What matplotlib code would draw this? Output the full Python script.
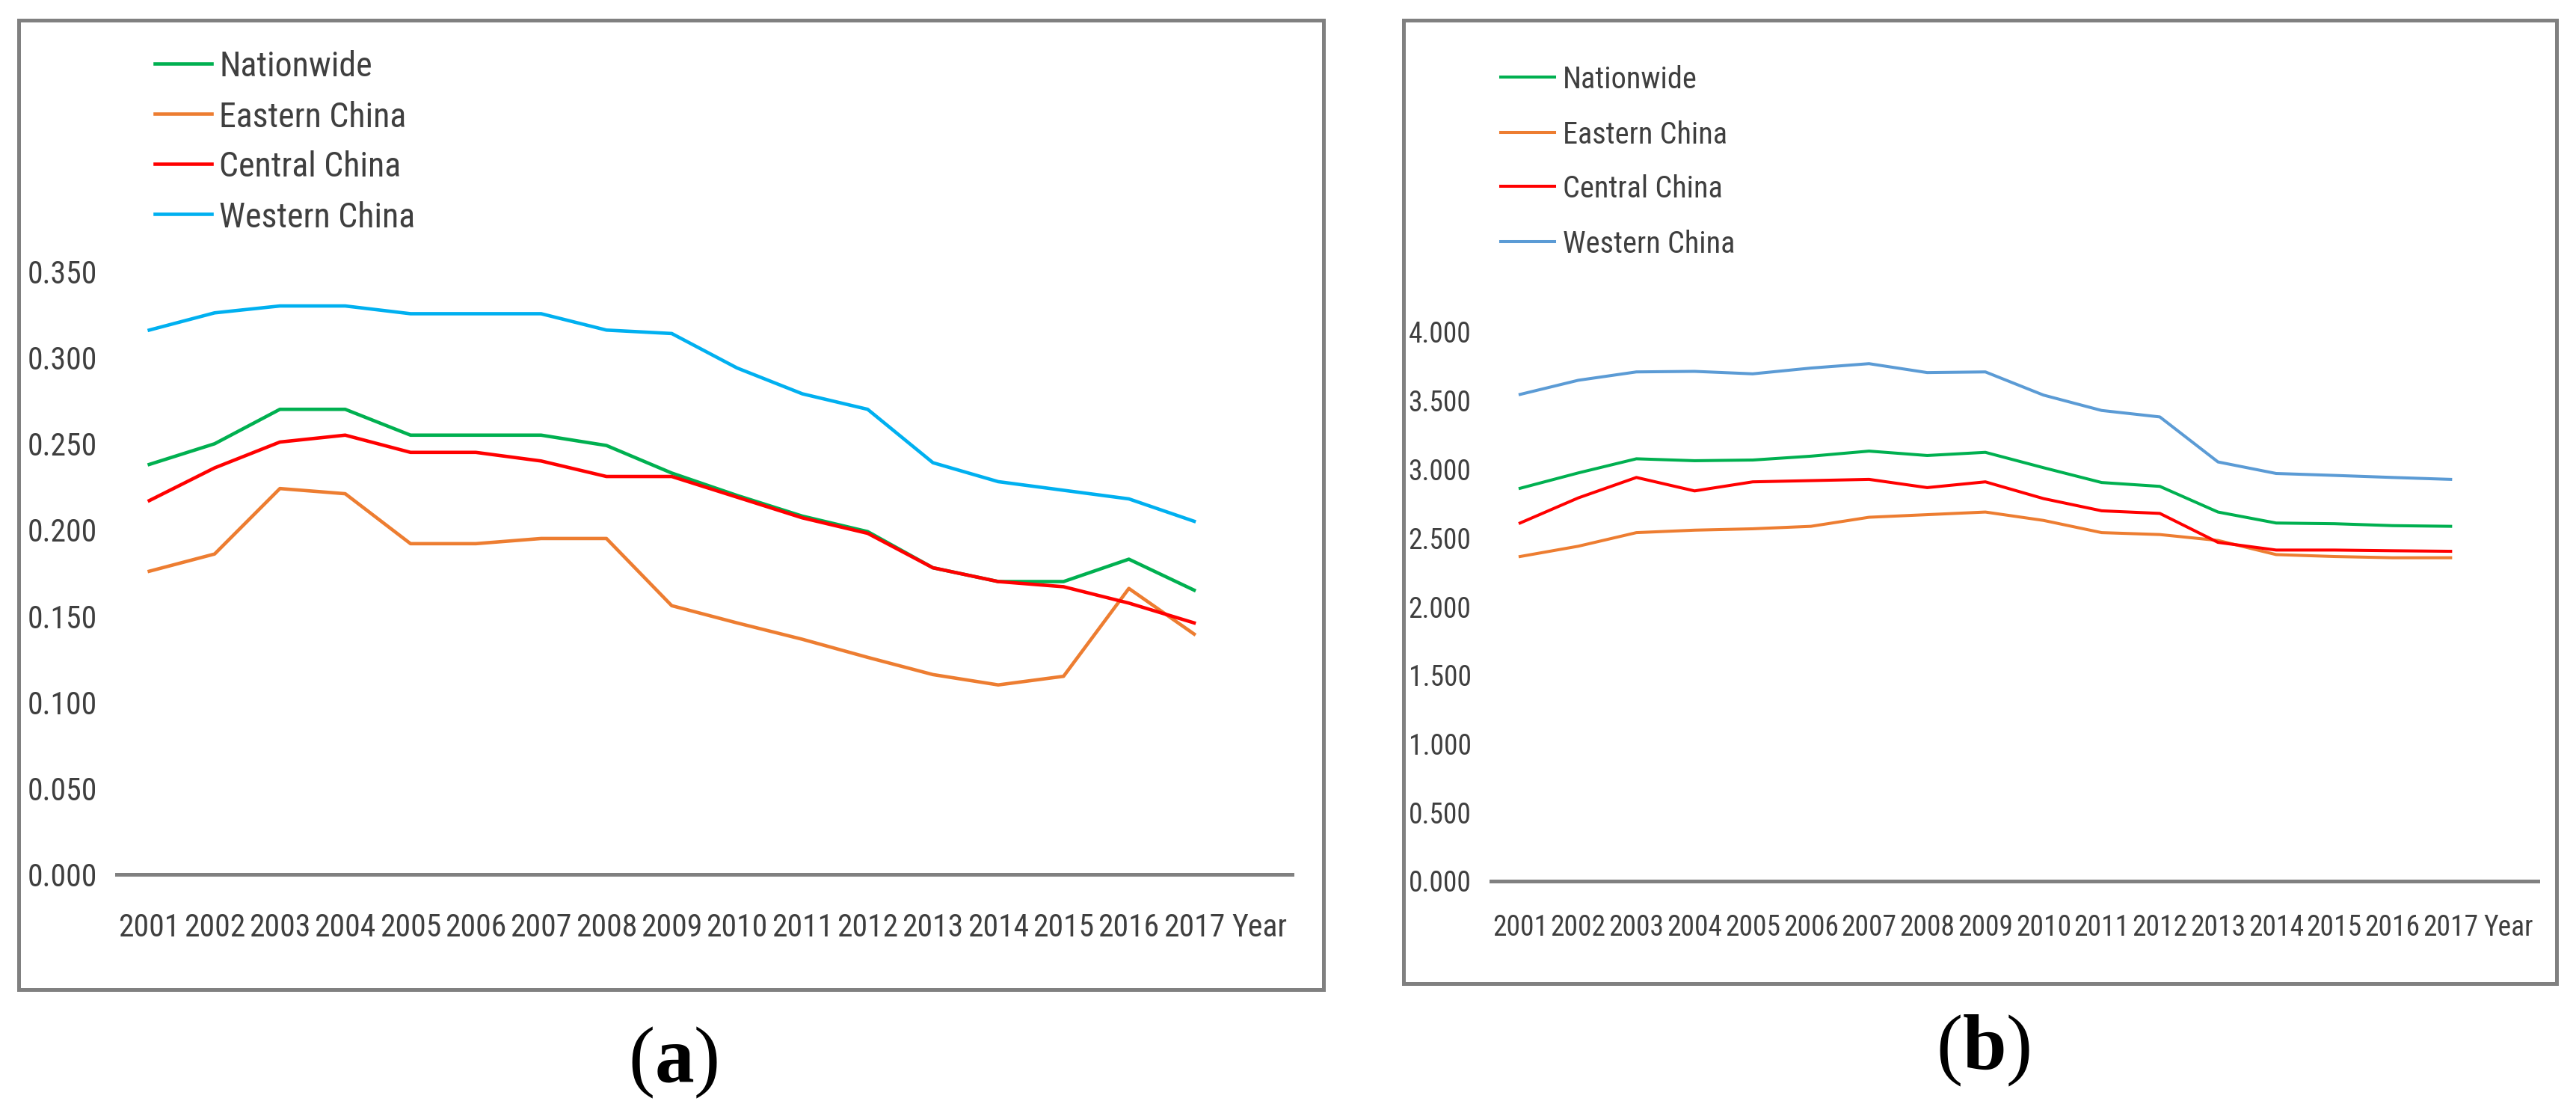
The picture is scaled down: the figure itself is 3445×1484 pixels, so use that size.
import matplotlib
matplotlib.use("Agg")
import matplotlib.pyplot as plt
from matplotlib import font_manager
from matplotlib.lines import Line2D
from matplotlib.patches import Rectangle

# data
years = [2001, 2002, 2003, 2004, 2005, 2006, 2007, 2008, 2009,
         2010, 2011, 2012, 2013, 2014, 2015, 2016, 2017]
xlabels = [str(y) for y in years] + ["Year"]
series_names = ["Nationwide", "Eastern China", "Central China", "Western China"]

# panel (a)
a_nation = [0.238, 0.250, 0.270, 0.270, 0.255, 0.255, 0.255, 0.249, 0.233,
            0.220, 0.208, 0.199, 0.178, 0.170, 0.170, 0.183, 0.165]
a_east = [0.176, 0.186, 0.224, 0.221, 0.192, 0.192, 0.195, 0.195, 0.156,
          0.146, 0.1365, 0.126, 0.116, 0.110, 0.115, 0.166, 0.1395]
a_central = [0.217, 0.236, 0.251, 0.255, 0.245, 0.245, 0.240, 0.231, 0.231,
             0.219, 0.207, 0.198, 0.178, 0.170, 0.167, 0.1575, 0.146]
a_west = [0.316, 0.326, 0.330, 0.330, 0.3255, 0.3255, 0.3255, 0.316, 0.314,
          0.294, 0.279, 0.270, 0.239, 0.228, 0.223, 0.218, 0.205]
a_ticks = [0.0, 0.05, 0.10, 0.15, 0.20, 0.25, 0.30, 0.35]

# panel (b)
b_nation = [2.862, 2.974, 3.077, 3.063, 3.068, 3.096, 3.133, 3.101, 3.124,
            3.012, 2.904, 2.876, 2.689, 2.609, 2.604, 2.590, 2.585]
b_east = [2.365, 2.440, 2.539, 2.557, 2.567, 2.585, 2.651, 2.670, 2.689,
          2.628, 2.539, 2.525, 2.482, 2.379, 2.365, 2.356, 2.356]
b_central = [2.609, 2.792, 2.941, 2.843, 2.909, 2.918, 2.927, 2.867, 2.909,
             2.787, 2.698, 2.679, 2.468, 2.412, 2.412, 2.407, 2.403]
b_west = [3.546, 3.649, 3.710, 3.714, 3.696, 3.738, 3.770, 3.705, 3.710,
          3.541, 3.429, 3.382, 3.054, 2.970, 2.956, 2.941, 2.927]
b_ticks = [0.0, 0.5, 1.0, 1.5, 2.0, 2.5, 3.0, 3.5, 4.0]

W, H = 3445, 1484
GREY = "#808080"
TXT = "#3f3f3f"

# pick a narrow font if one is installed
names = set(f.name for f in font_manager.fontManager.ttflist)
narrow = None
for cand in ["Liberation Sans Narrow", "Roboto Condensed", "Open Sans Condensed"]:
    if cand in names:
        narrow = cand
        break
scale = 1.0
if narrow is None:
    narrow = "Liberation Sans"
    scale = 0.82

plt.rcParams["mathtext.fontset"] = "custom"
plt.rcParams["mathtext.rm"] = "Liberation Serif"
plt.rcParams["mathtext.bf"] = "Liberation Serif:bold"


def fx(px):
    return px / W


def fy(py):
    return 1 - py / H


fig = plt.figure(figsize=(W / 100, H / 100), dpi=100)


def panel(box, axpx, data, colors, ticks, ymax, lw, tick_fs, leg, leg_fs, xpad, caption):
    # outer frame
    l, t, r, b = box
    fig.add_artist(Rectangle((fx(l), fy(b)), fx(r - l), (b - t) / H,
                             transform=fig.transFigure, fill=False,
                             edgecolor=GREY, linewidth=3.6))
    x0, x1, ytop, ybot = axpx
    ax = fig.add_axes([fx(x0), fy(ybot), fx(x1 - x0), (ybot - ytop) / H])
    for vals, c in zip(data, colors):
        ax.plot(years, vals, color=c, linewidth=lw, solid_joinstyle="round")
    ax.set_xlim(2000.5, 2018.5)
    ax.set_ylim(0, ymax)
    ax.set_xticks(years + [2018])
    ax.set_xticklabels(xlabels)
    ax.set_yticks(ticks)
    ax.set_yticklabels(["%.3f" % v for v in ticks])
    for s in ["top", "left", "right"]:
        ax.spines[s].set_visible(False)
    ax.spines["bottom"].set_color(GREY)
    ax.spines["bottom"].set_linewidth(3.6)
    ax.tick_params(axis="both", length=0, colors=TXT, labelsize=tick_fs * scale)
    ax.tick_params(axis="x", pad=xpad)
    ax.tick_params(axis="y", pad=19)
    for lab in ax.get_xticklabels() + ax.get_yticklabels():
        lab.set_fontfamily(narrow)
    ax.patch.set_alpha(0)

    # legend drawn by hand in the top-left corner
    lx0, lx1, tx, rows = leg
    for name, c, yy in zip(series_names, colors, rows):
        fig.add_artist(Line2D([fx(lx0), fx(lx1)], [fy(yy), fy(yy)],
                              transform=fig.transFigure, color=c, linewidth=lw))
        fig.text(fx(tx), fy(yy), name, fontsize=leg_fs * scale, color=TXT,
                 family=narrow, va="center_baseline", ha="left")

    fig.text(fx(caption[0]), fy(caption[1]), r"($\mathbf{%s}$)" % caption[2],
             family="Liberation Serif", fontsize=76, ha="center", va="center",
             color="black")


panel((25, 27, 1770, 1323), (156, 1728, 363, 1169),
      [a_nation, a_east, a_central, a_west],
      ["#00B050", "#ED7D31", "#FF0000", "#00B0F0"],
      a_ticks, 0.35, 3.3, 30, (207, 283, 293, [85, 152, 219, 286]), 33, 37,
      (900, 1421, "a"))

panel((1877, 27, 3419, 1315), (1994, 3394, 444, 1178),
      [b_nation, b_east, b_central, b_west],
      ["#00B050", "#ED7D31", "#FF0000", "#5B9BD5"],
      b_ticks, 4.0, 2.9, 27, (2007, 2079, 2090, [103, 177, 249, 323]), 29, 32,
      (2652, 1405, "b"))

fig.savefig("out.png", dpi=100)
